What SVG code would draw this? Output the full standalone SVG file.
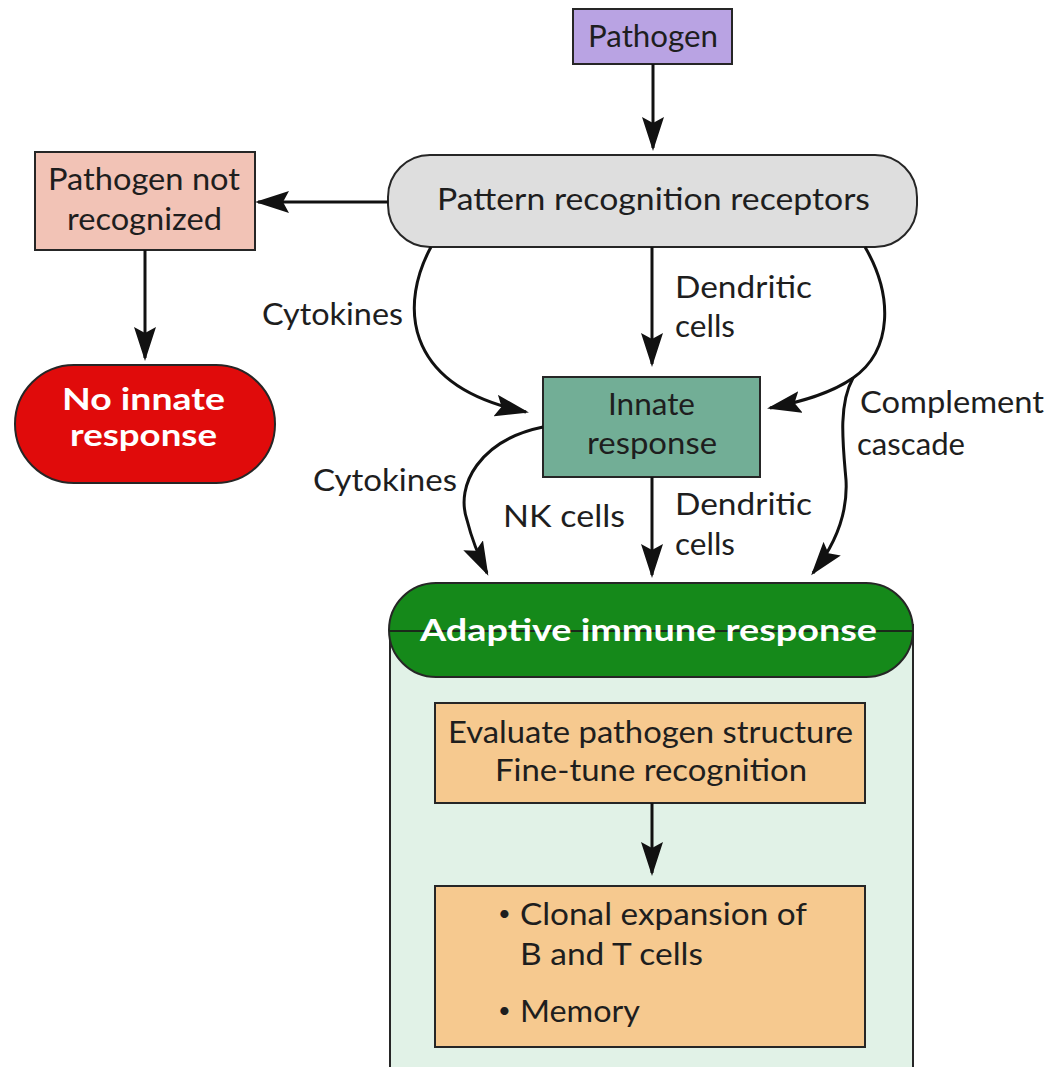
<svg xmlns="http://www.w3.org/2000/svg" width="1051" height="1067" viewBox="0 0 1051 1067">
<defs>
<style>
.box{stroke:#262626;stroke-width:2}
.t{font-family:Lato,"Open Sans","Liberation Sans",sans-serif;font-size:30px;fill:#1e1e1e}
.b{font-family:Lato,"Open Sans","Liberation Sans",sans-serif;font-size:22px;fill:#1e1e1e}
.w{font-family:Lato,"Open Sans","Liberation Sans",sans-serif;font-size:31px;font-weight:bold;fill:#ffffff}
.c{fill:none;stroke:#111;stroke-width:3}
</style>
<marker id="ah" viewBox="0 0 34 22" markerWidth="34" markerHeight="22" refX="31" refY="11" orient="auto" markerUnits="userSpaceOnUse">
<path d="M0,0 L34,11 L0,22 L6,11 z" fill="#111"/>
</marker>
</defs>
<rect width="1051" height="1067" fill="#ffffff"/>

<g id="adaptive">
<rect x="390" y="625" width="523" height="460" fill="#e1f2e7" class="box"/>
<rect x="389" y="583" width="524" height="94" rx="47" ry="47" fill="#15891a" class="box"/>
<line x1="389" y1="631" x2="913" y2="631" stroke="#1a2a1a" stroke-width="2"/>
<text class="w" x="420" y="641" textLength="457" lengthAdjust="spacingAndGlyphs">Adaptive immune response</text>
</g>

<g id="pathogen">
<rect x="573" y="9" width="159" height="55" fill="#b9a3e3" class="box"/>
<text class="t" x="588" y="47" textLength="130" lengthAdjust="spacingAndGlyphs">Pathogen</text>
</g>

<g id="prr">
<rect x="388" y="155" width="529" height="92" rx="42" ry="42" fill="#dedede" class="box"/>
<text class="t" x="437" y="210" textLength="433" lengthAdjust="spacingAndGlyphs">Pattern recognition receptors</text>
</g>

<g id="not-recognized">
<rect x="35" y="152" width="220" height="98" fill="#f2c3b6" class="box"/>
<text class="t" x="48" y="190" textLength="192" lengthAdjust="spacingAndGlyphs">Pathogen not</text>
<text class="t" x="67" y="230" textLength="155" lengthAdjust="spacingAndGlyphs">recognized</text>
</g>

<g id="no-innate">
<rect x="15" y="365" width="260" height="118" rx="59" ry="59" fill="#e00b0b" class="box"/>
<text class="w" x="62" y="410" textLength="163" lengthAdjust="spacingAndGlyphs">No innate</text>
<text class="w" x="70" y="446" textLength="147" lengthAdjust="spacingAndGlyphs">response</text>
</g>

<g id="innate">
<rect x="543" y="377" width="217" height="100" fill="#72ae96" class="box"/>
<text class="t" x="608" y="415" textLength="87" lengthAdjust="spacingAndGlyphs">Innate</text>
<text class="t" x="587" y="454" textLength="130" lengthAdjust="spacingAndGlyphs">response</text>
</g>

<g id="evaluate">
<rect x="435" y="703" width="430" height="100" fill="#f6c98f" class="box"/>
<text class="t" x="448" y="743" textLength="405" lengthAdjust="spacingAndGlyphs">Evaluate pathogen structure</text>
<text class="t" x="495" y="781" textLength="312" lengthAdjust="spacingAndGlyphs">Fine-tune recognition</text>
</g>

<g id="clonal">
<rect x="435" y="886" width="430" height="161" fill="#f6c98f" class="box"/>
<text class="b" x="498" y="921">•</text>
<text class="t" x="520" y="925" textLength="287" lengthAdjust="spacingAndGlyphs">Clonal expansion of</text>
<text class="t" x="520" y="965" textLength="183" lengthAdjust="spacingAndGlyphs">B and T cells</text>
<text class="b" x="498" y="1018">•</text>
<text class="t" x="520" y="1022" textLength="120" lengthAdjust="spacingAndGlyphs">Memory</text>
</g>

<g id="connectors">
<path class="c" d="M653,64 L653,148" marker-end="url(#ah)"/>
<path class="c" d="M388,202 L258,202" marker-end="url(#ah)"/>
<path class="c" d="M145,250 L145,358" marker-end="url(#ah)"/>
<path class="c" d="M652,247 L652,364" marker-end="url(#ah)"/>
<path class="c" d="M431,247 C402,300 398,385 526,412" marker-end="url(#ah)"/>
<path class="c" d="M865,247 C893,295 893,350 853,378 C830,394 800,402 770,408" marker-end="url(#ah)"/>
<path class="c" d="M853,378 C838,405 843,445 846,480 C848,515 835,545 813,573" marker-end="url(#ah)"/>
<path class="c" d="M543,427 C480,440 455,485 467,520 C472,540 478,555 487,573" marker-end="url(#ah)"/>
<path class="c" d="M652,477 L652,575" marker-end="url(#ah)"/>
<path class="c" d="M652,803 L652,873" marker-end="url(#ah)"/>
</g>

<g id="labels">
<text class="t" x="262" y="325" textLength="141" lengthAdjust="spacingAndGlyphs">Cytokines</text>
<text class="t" x="675" y="298" textLength="137" lengthAdjust="spacingAndGlyphs">Dendritic</text>
<text class="t" x="675" y="337" textLength="60" lengthAdjust="spacingAndGlyphs">cells</text>
<text class="t" x="860" y="413" textLength="184" lengthAdjust="spacingAndGlyphs">Complement</text>
<text class="t" x="857" y="455" textLength="108" lengthAdjust="spacingAndGlyphs">cascade</text>
<text class="t" x="313" y="491" textLength="144" lengthAdjust="spacingAndGlyphs">Cytokines</text>
<text class="t" x="503" y="527" textLength="122" lengthAdjust="spacingAndGlyphs">NK cells</text>
<text class="t" x="675" y="515" textLength="137" lengthAdjust="spacingAndGlyphs">Dendritic</text>
<text class="t" x="675" y="555" textLength="60" lengthAdjust="spacingAndGlyphs">cells</text>
</g>
</svg>
